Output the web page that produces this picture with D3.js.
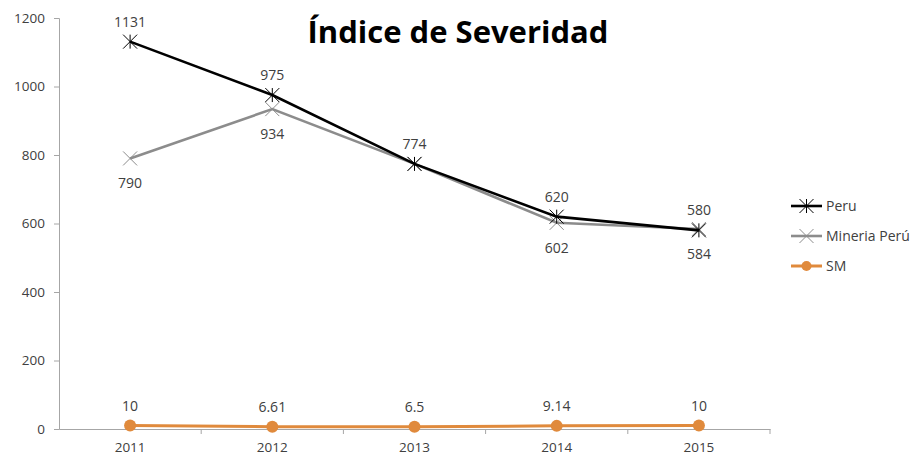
<!DOCTYPE html>
<html>
<head>
<meta charset="utf-8">
<script src="https://cdn.jsdelivr.net/npm/d3@7"></script>
<style>
  body { margin: 0; background: #fff; }
  text { font-family: "Open Sans", "Noto Sans", sans-serif; }
</style>
</head>
<body>
<div id="chart"></div>
<script>
const years = ["2011", "2012", "2013", "2014", "2015"]
const peru = [1131, 975, 774, 620, 580]
const mineria = [790, 934, 774, 602, 584]
const sm = [10, 6.61, 6.5, 9.14, 10]
const yTicks = [0, 200, 400, 600, 800, 1000, 1200]
// which labels are shown, and above (-1) or below (+1) the point
const peruLabelPos = [-1, -1, -1, -1, -1]
const mineriaLabelPos = [1, 1, null, 1, 1]
const smLabelPos = [-1, -1, -1, -1, -1]

const width = 916, height = 458
const margin = {top: 18, right: 146, bottom: 29, left: 59}

const svg = d3.select("#chart").append("svg")
    .attr("width", width)
    .attr("height", height)

const x = d3.scaleBand()
    .domain(years)
    .range([margin.left, width - margin.right])

const y = d3.scaleLinear()
    .domain([0, 1200])
    .range([height - margin.bottom, margin.top])

// y axis
const yAxis = svg.append("g")
    .attr("transform", "translate(" + margin.left + ",0)")
    .call(d3.axisLeft(y).tickValues(yTicks).tickFormat(d3.format("d")).tickSize(5).tickPadding(9))
yAxis.select(".domain").attr("stroke", "#a6a6a6")
yAxis.selectAll(".tick line").attr("stroke", "#a6a6a6")
yAxis.selectAll(".tick text")
    .style("font-size", "13.5px")
    .attr("fill", "#404040")

// x axis, ticks on band edges
const xAxis = svg.append("g")
    .attr("transform", "translate(0," + y(0) + ")")
    .call(d3.axisBottom(x).tickSize(0).tickPadding(13))
xAxis.select(".domain").attr("stroke", "#a6a6a6")
xAxis.selectAll(".tick text")
    .style("font-size", "13.5px")
    .attr("fill", "#404040")
xAxis.selectAll(".edge")
    .data(years)
  .enter().append("line")
    .attr("x1", d => x(d) + x.bandwidth())
    .attr("x2", d => x(d) + x.bandwidth())
    .attr("y1", 0)
    .attr("y2", 5)
    .attr("stroke", "#a6a6a6")

const cx = d => x(d) + x.bandwidth() / 2

const series = [
  {name: "Peru", values: peru, color: "#000000", marker: "star", labels: peruLabelPos},
  {name: "Mineria Perú", values: mineria, color: "#8c8c8c", marker: "cross", labels: mineriaLabelPos},
  {name: "SM", values: sm, color: "#e08a3c", marker: "circle", labels: smLabelPos}
]

function drawMarker(g, type, color) {
  if (type === "circle") {
    g.append("circle").attr("r", 6).attr("fill", color)
  } else {
    const s = 7
    const path = type === "star"
      ? "M" + -s + "," + -s + "L" + s + "," + s + "M" + -s + "," + s + "L" + s + "," + -s + "M0," + -s + "L0," + s
      : "M" + -s + "," + -s + "L" + s + "," + s + "M" + -s + "," + s + "L" + s + "," + -s
    g.append("path").attr("d", path).attr("stroke", color).attr("stroke-width", 1).attr("fill", "none")
  }
}

const line = d3.line()
    .x((d, i) => cx(years[i]))
    .y(d => y(d))

// draw in reverse so Peru sits on top
series.slice().reverse().forEach(s => {
  svg.append("path")
      .datum(s.values)
      .attr("d", line)
      .attr("fill", "none")
      .attr("stroke", s.color)
      .attr("stroke-width", s.marker === "circle" ? 3 : 2.6)

  s.values.forEach((v, i) => {
    const g = svg.append("g").attr("transform", "translate(" + cx(years[i]) + "," + y(v) + ")")
    drawMarker(g, s.marker, s.color)
  })
})

// data labels
series.forEach(s => {
  s.values.forEach((v, i) => {
    const pos = s.labels[i]
    if (pos === null) return
    svg.append("text")
        .attr("x", cx(years[i]))
        .attr("y", y(v) + (pos < 0 ? -15 : 30))
        .attr("text-anchor", "middle")
        .style("font-size", "14px")
        .attr("fill", "#404040")
        .text(v)
  })
})

// title
svg.append("text")
    .attr("x", 458)
    .attr("y", 43)
    .attr("text-anchor", "middle")
    .style("font-size", "31px")
    .style("font-weight", "bold")
    .attr("fill", "#000")
    .text("Índice de Severidad")

// legend
const legend = svg.append("g").attr("transform", "translate(791,206)")
series.forEach((s, i) => {
  const g = legend.append("g").attr("transform", "translate(0," + i * 30 + ")")
  g.append("line")
      .attr("x1", 0).attr("x2", 31)
      .attr("stroke", s.color)
      .attr("stroke-width", s.marker === "circle" ? 3 : 2.6)
  const m = g.append("g").attr("transform", "translate(15.5,0)")
  if (s.marker === "circle") {
    m.append("circle").attr("r", 5).attr("fill", s.color)
  } else {
    drawMarker(m, s.marker, s.color)
  }
  g.append("text")
      .attr("x", 35)
      .attr("y", 5)
      .style("font-size", "14px")
      .attr("fill", "#404040")
      .text(s.name)
})
</script>
</body>
</html>
